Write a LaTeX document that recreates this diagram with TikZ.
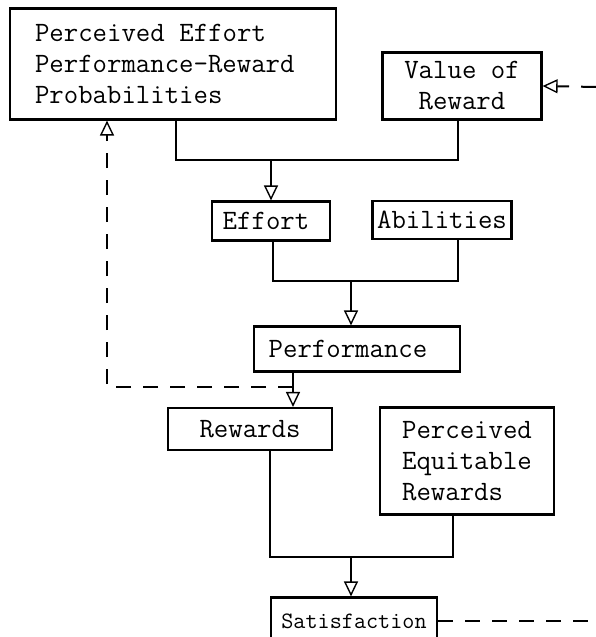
\documentclass[tikz,border=0pt]{standalone}
\usepackage{fontspec}
\usetikzlibrary{arrows.meta,positioning}
\tikzset{
  blk/.style={draw,line width=2.2pt,inner sep=0pt,align=center,font=\ttfamily\fontsize{28}{31}\selectfont},
  link/.style={line width=2pt},
  arr/.style={link,-{Triangle[open,length=15pt,width=14pt,line width=1.4pt]}},
  fb/.style={link,dash pattern=on 15pt off 12pt}
}

\begin{document}
\begin{tikzpicture}[x=1pt,y=-1pt]
\useasboundingbox (0,0) rectangle (596,637);
\node[blk,align=left,text width=276pt,inner xsep=25pt,minimum height=111pt] (pe) at (173,64) {\spaceskip=0.525em\relax Perceived Effort\\Performance-Reward\\Probabilities\\[-8pt]};
\node[blk,minimum width=159pt,minimum height=67pt] (vr) at (462,86) {Value of\\Reward};
\node[blk,minimum width=118pt,minimum height=39pt] (eff) at (271,221) {Effort\hspace{10pt}};
\node[blk,minimum width=139pt,minimum height=38pt] (abl) at (442,220) {Abilities};
\node[blk,minimum width=206pt,minimum height=45pt] (perf) at (357,349) {Performance\hspace{18pt}};
\node[blk,minimum width=164pt,minimum height=42pt] (rew) at (250,429) {Rewards};
\node[blk,align=left,minimum width=174pt,minimum height=107pt] (per) at (467,461) {Perceived\\Equitable\\Rewards};
\node[blk,font=\ttfamily\fontsize{23.5}{26}\selectfont,minimum width=166pt,minimum height=47pt] (sat) at (354,621) {Satisfaction};
% junctions
\coordinate (j1) at (271,160);
\coordinate (j2) at (351,281);
\coordinate (j3) at (351,557);
\coordinate (fbr) at (293,387);
\coordinate (fbl) at (107,387);
\coordinate (rtop) at (596,87);
\coordinate (rbot) at (596,621);
% solid links
\draw[link] ([xshift=3pt]pe.south) |- (j1) -| ([xshift=-4pt]vr.south);
\draw[arr] (j1) -- (eff.north);
\draw[link] ([xshift=2pt]eff.south) |- (j2) -| ([xshift=16pt]abl.south);
\draw[arr] (j2) -- (j2 |- perf.north);
\draw[arr] (fbr |- perf.south) -- (fbr |- rew.north);
\draw[link] ([xshift=20pt]rew.south) |- (j3) -| ([xshift=-14pt]per.south);
\draw[arr] (j3) -- (j3 |- sat.north);
% feedback
\draw[fb,-{Triangle[open,length=15pt,width=14pt,line width=1.4pt]}] (fbr) -- (fbl) -- (fbl |- pe.south);
\draw[fb] (sat.east) -- (rbot);
\draw[fb,-{Triangle[open,length=15pt,width=14pt,line width=1.4pt]}] (rtop) -- (vr.east);
\end{tikzpicture}
\end{document}
